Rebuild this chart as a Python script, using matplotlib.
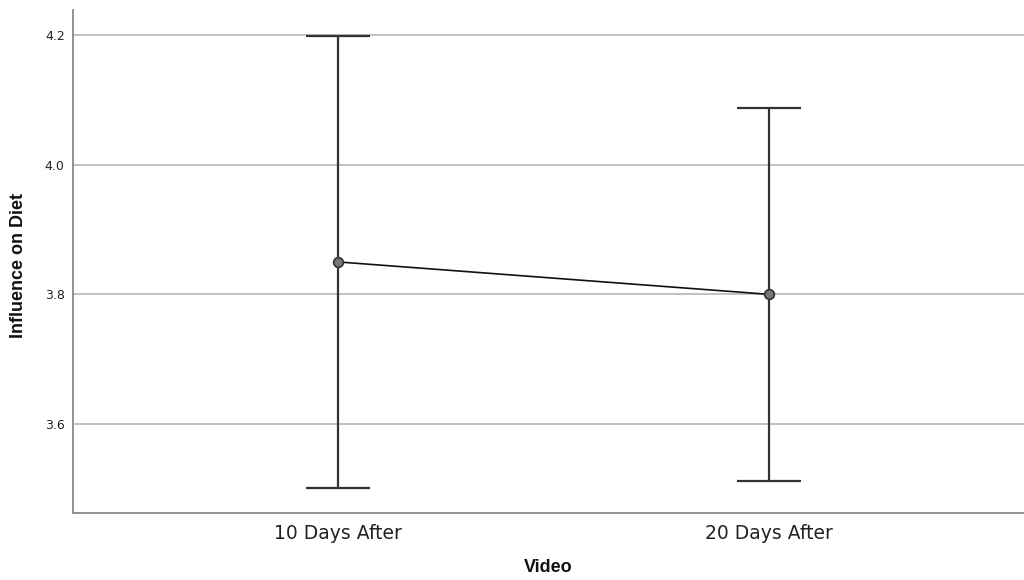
import matplotlib
matplotlib.use("Agg")
import matplotlib.pyplot as plt

categories = ["10 Days After", "20 Days After"]
means = [3.85, 3.80]
upper = [4.199, 4.087]
lower = [3.501, 3.512]
yticks = [3.6, 3.8, 4.0, 4.2]

plt.rcParams['font.family'] = ['DejaVu Sans']
fig = plt.figure(figsize=(10.24, 5.8), dpi=100)
ax = fig.add_axes([73/1024, 67/580, 1 - 73/1024, 503/580])

x = list(range(len(categories)))
yerr = [[m - l for m, l in zip(means, lower)], [u - m for m, u in zip(means, upper)]]
ax.errorbar(x, means, yerr=yerr, fmt='none', ecolor='#333333', elinewidth=1.6,
            capsize=23, capthick=1.6, zorder=3)
ax.plot(x, means, color='#111111', linewidth=1.2, zorder=4)
ax.plot(x, means, 'o', markersize=7, markerfacecolor='#777777',
        markeredgecolor='#333333', markeredgewidth=1.2, zorder=5)

ax.set_xlim(-0.615, 1.592)
ax.set_ylim(3.4627, 4.2386)
ax.set_yticks(yticks)
ax.set_yticklabels([f"{t:.1f}" for t in yticks], fontsize=9, color='#222222')
ax.set_xticks(x)
ax.set_xticklabels(categories, fontsize=13.5, color='#222222')
ax.tick_params(axis='both', length=0, pad=6)
ax.tick_params(axis='x', pad=8)
ax.grid(axis='y', color='#b0b0b0', linewidth=1.1)
ax.set_axisbelow(True)
for s in ['top', 'right']:
    ax.spines[s].set_visible(False)
for s in ['left', 'bottom']:
    ax.spines[s].set_color('#888888')
    ax.spines[s].set_linewidth(1.3)

fig.text(548/1024, 1 - 567/580, "Video", fontsize=13, fontweight='bold',
         family=['Liberation Sans', 'DejaVu Sans'], ha='center', va='center', color='#111111')
fig.text(19/1024, 1 - 265/580, "Influence on Diet", fontsize=13, fontweight='bold',
         family=['Liberation Sans', 'DejaVu Sans'], ha='center', va='center',
         rotation=90, color='#111111')

fig.savefig("out.png", dpi=100)
